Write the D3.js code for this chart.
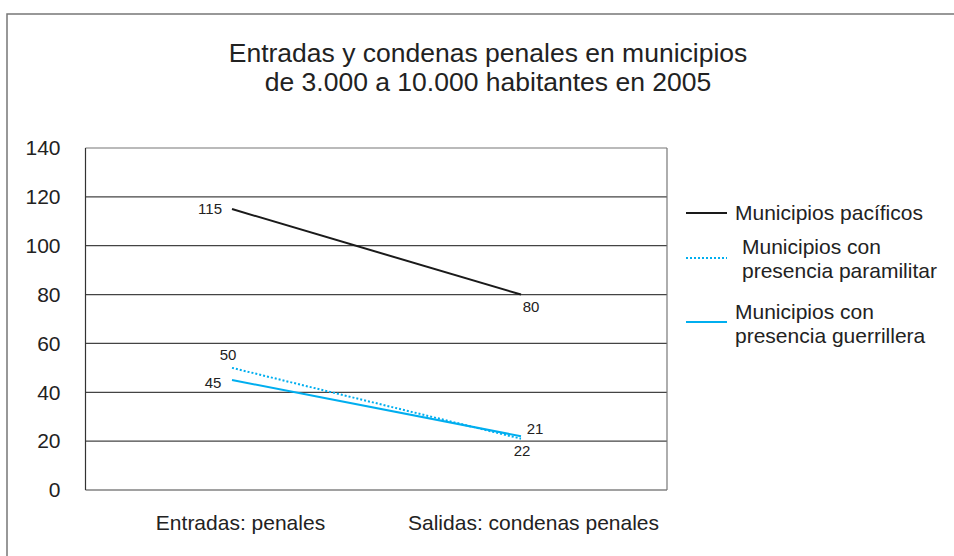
<!DOCTYPE html>
<html>
<head>
<meta charset="utf-8">
<script src="https://cdn.jsdelivr.net/npm/d3@7"></script>
<style>
  body { margin: 0; background: #fff; }
  svg { font-family: "Liberation Sans", Arial, sans-serif; }
</style>
</head>
<body>
<svg id="chart"></svg>
<script>
// -------------------------------------------------------------
const width = 954;
const height = 556;

const titleLines = ['Entradas y condenas penales en municipios', 'de 3.000 a 10.000 habitantes en 2005'];
const categories = ['Entradas: penales', 'Salidas: condenas penales'];
const yTicks     = [0, 20, 40, 60, 80, 100, 120, 140];

const seriesNames = [['Municipios pacíficos'], ['Municipios con', 'presencia paramilitar'], ['Municipios con', 'presencia guerrillera']];
const pacificos   = [115, 80];
const paramilitar = [50, 21];
const guerrillera = [45, 22];

const series = [
  { name: seriesNames[0], values: pacificos,   color: '#1a1a1a', dash: null },
  { name: seriesNames[1], values: paramilitar, color: '#00aeef', dash: '2,2' },
  { name: seriesNames[2], values: guerrillera, color: '#00aeef', dash: null }
];

const plot = { left: 85.5, right: 667, top: 148, bottom: 490 };

const svg = d3.select('#chart').attr('width', width).attr('height', height);

// outer frame (runs past the right/bottom edge)
svg.append('rect')
  .attr('x', 7).attr('y', 14)
  .attr('width', 1000).attr('height', 600)
  .attr('fill', 'none')
  .attr('stroke', '#777')
  .attr('stroke-width', 1.5);

// title
svg.append('text')
  .attr('x', 488).attr('y', 62)
  .attr('text-anchor', 'middle')
  .style('font-size', '26.5px')
  .style('fill', '#222')
  .selectAll('tspan')
  .data(titleLines)
  .enter().append('tspan')
  .attr('x', 488)
  .attr('dy', (d, i) => i === 0 ? 0 : 29)
  .text(d => d);

// scales
const y = d3.scaleLinear().domain([0, 140]).range([plot.bottom, plot.top]);
const x = d3.scalePoint().domain(categories).range([232, 521]);

// gridlines
svg.append('g')
  .selectAll('line')
  .data(yTicks)
  .enter().append('line')
  .attr('x1', plot.left).attr('x2', plot.right)
  .attr('y1', d => y(d)).attr('y2', d => y(d))
  .attr('stroke', d => d === 140 ? '#777' : '#444')
  .attr('stroke-width', 1.2);

// plot sides
svg.append('line')
  .attr('x1', plot.left).attr('x2', plot.left)
  .attr('y1', plot.top).attr('y2', plot.bottom)
  .attr('stroke', '#333').attr('stroke-width', 1.2);
svg.append('line')
  .attr('x1', plot.right).attr('x2', plot.right)
  .attr('y1', plot.top).attr('y2', plot.bottom)
  .attr('stroke', '#777').attr('stroke-width', 1.2);

// y axis labels
const yAxis = d3.axisLeft(y).tickValues(yTicks).tickSize(0).tickPadding(25);
const yG = svg.append('g')
  .attr('transform', `translate(${plot.left},0)`)
  .call(yAxis);
yG.select('.domain').remove();
yG.selectAll('text')
  .style('font-size', '21px')
  .style('font-family', '"Liberation Sans", Arial, sans-serif')
  .attr('fill', '#222');

// category labels
const xAxis = d3.axisBottom(x).tickSize(0).tickPadding(0);
const xG = svg.append('g')
  .attr('transform', `translate(0,${plot.bottom + 25})`)
  .call(xAxis);
xG.select('.domain').remove();
xG.selectAll('text')
  .style('font-size', '21px')
  .style('font-family', '"Liberation Sans", Arial, sans-serif')
  .attr('fill', '#222')
  .attr('dx', (d, i) => i === 0 ? 8 : 12);

// lines
const line = d3.line()
  .x((d, i) => x(categories[i]))
  .y(d => y(d));

svg.append('g')
  .selectAll('path')
  .data(series)
  .enter().append('path')
  .attr('d', d => line(d.values))
  .attr('fill', 'none')
  .attr('stroke', d => d.color)
  .attr('stroke-width', 2)
  .attr('stroke-dasharray', d => d.dash);

// value labels
const labelOffsets = [
  [[-10, 0, 'end'], [10, 12, 'middle']],
  [[-4, -13, 'middle'], [14, -10, 'middle']],
  [[-19, 3, 'middle'], [1, 14, 'middle']]
];
series.forEach((s, si) => {
  s.values.forEach((v, i) => {
    const o = labelOffsets[si][i];
    svg.append('text')
      .attr('x', x(categories[i]) + o[0])
      .attr('y', y(v) + o[1])
      .attr('dy', '0.35em')
      .attr('text-anchor', o[2])
      .style('font-size', '15px')
      .style('fill', '#222')
      .text(v);
  });
});

// legend
const legendRows = [
  { lineY: 213, textX: 735, textY: 213 },
  { lineY: 258, textX: 742, textY: 247 },
  { lineY: 322, textX: 735, textY: 312 }
];
const legend = svg.append('g');
series.forEach((s, i) => {
  const r = legendRows[i];
  legend.append('line')
    .attr('x1', 686).attr('x2', 727)
    .attr('y1', r.lineY).attr('y2', r.lineY)
    .attr('stroke', s.color)
    .attr('stroke-width', 2)
    .attr('stroke-dasharray', s.dash);
  legend.append('text')
    .attr('y', r.textY)
    .style('font-size', '21px')
    .style('fill', '#222')
    .selectAll('tspan')
    .data(s.name)
    .enter().append('tspan')
    .attr('x', r.textX)
    .attr('dy', (d, k) => k === 0 ? '0.35em' : 24)
    .text(d => d);
});
</script>
</body>
</html>
